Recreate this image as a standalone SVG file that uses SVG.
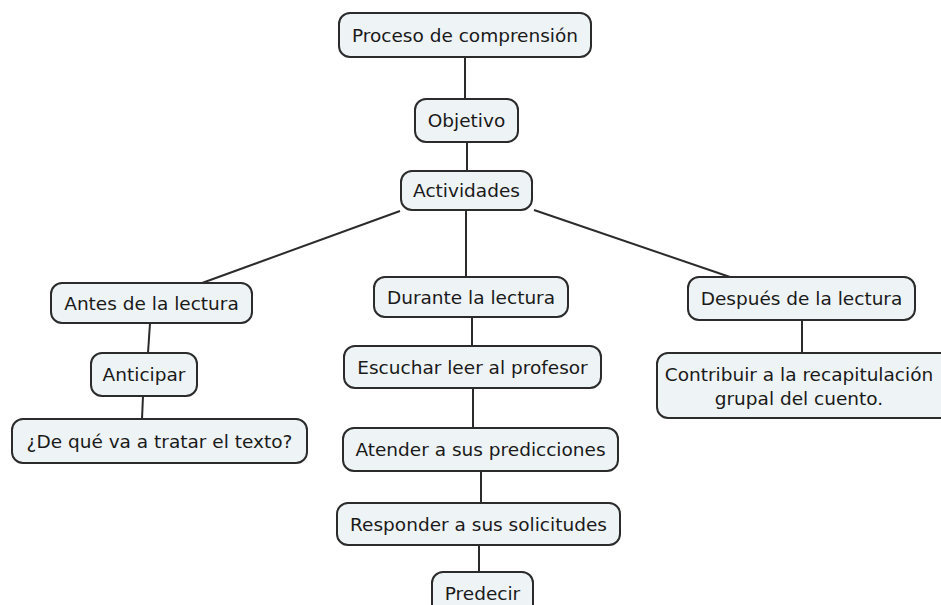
<svg xmlns="http://www.w3.org/2000/svg" width="941" height="605" viewBox="0 0 941 605">
<style>
.n rect{fill:#eef3f6;stroke:#2b2b2b;stroke-width:2}
.n text{font-family:"DejaVu Sans",Verdana,sans-serif;font-size:18.5px;fill:#1a1a1a;text-anchor:middle}
#links line{stroke:#2b2b2b;stroke-width:2}
</style>
<rect width="941" height="605" fill="#fff"/>
<g id="links">
<line x1="465" y1="57" x2="465" y2="99"/>
<line x1="467" y1="142" x2="467" y2="171"/>
<line x1="400" y1="211" x2="202" y2="283"/>
<line x1="466" y1="210" x2="466" y2="277"/>
<line x1="534" y1="210" x2="730" y2="277"/>
<line x1="150" y1="323" x2="148" y2="353"/>
<line x1="143" y1="396" x2="142" y2="419"/>
<line x1="472" y1="317" x2="472" y2="346"/>
<line x1="473" y1="388" x2="473" y2="428"/>
<line x1="481" y1="471" x2="481" y2="503"/>
<line x1="479" y1="545" x2="479" y2="572"/>
<line x1="802" y1="320" x2="802" y2="353"/>
</g>
<g id="n1" class="n"><rect x="339" y="13" width="252" height="44" rx="11"/><text x="465" y="42">Proceso de comprensión</text></g>
<g id="n2" class="n"><rect x="415" y="99" width="103" height="43" rx="11"/><text x="466.5" y="127">Objetivo</text></g>
<g id="n3" class="n"><rect x="401" y="171" width="131" height="39" rx="11"/><text x="466.5" y="197">Actividades</text></g>
<g id="n4" class="n"><rect x="51" y="283" width="201" height="40" rx="11"/><text x="151.5" y="310">Antes de la lectura</text></g>
<g id="n5" class="n"><rect x="91" y="353" width="106" height="43" rx="11"/><text x="144" y="381">Anticipar</text></g>
<g id="n6" class="n"><rect x="12" y="419" width="295" height="44" rx="11"/><text x="159.5" y="448">¿De qué va a tratar el texto?</text></g>
<g id="n7" class="n"><rect x="374" y="277" width="194" height="40" rx="11"/><text x="471" y="304">Durante la lectura</text></g>
<g id="n8" class="n"><rect x="344" y="346" width="257" height="42" rx="11"/><text x="472.5" y="374">Escuchar leer al profesor</text></g>
<g id="n9" class="n"><rect x="343" y="428" width="275" height="43" rx="11"/><text x="480.5" y="456">Atender a sus predicciones</text></g>
<g id="n10" class="n"><rect x="337" y="503" width="283" height="42" rx="11"/><text x="478.5" y="531">Responder a sus solicitudes</text></g>
<g id="n11" class="n"><rect x="432" y="572" width="101" height="45" rx="11"/><text x="482.5" y="600">Predecir</text></g>
<g id="n12" class="n"><rect x="688" y="277" width="227" height="43" rx="11"/><text x="801.5" y="305">Después de la lectura</text></g>
<g id="n13" class="n"><rect x="657" y="353" width="300" height="65" rx="11"/><text x="799" y="381">Contribuir a la recapitulación</text><text x="799" y="405">grupal del cuento.</text></g>
</svg>
